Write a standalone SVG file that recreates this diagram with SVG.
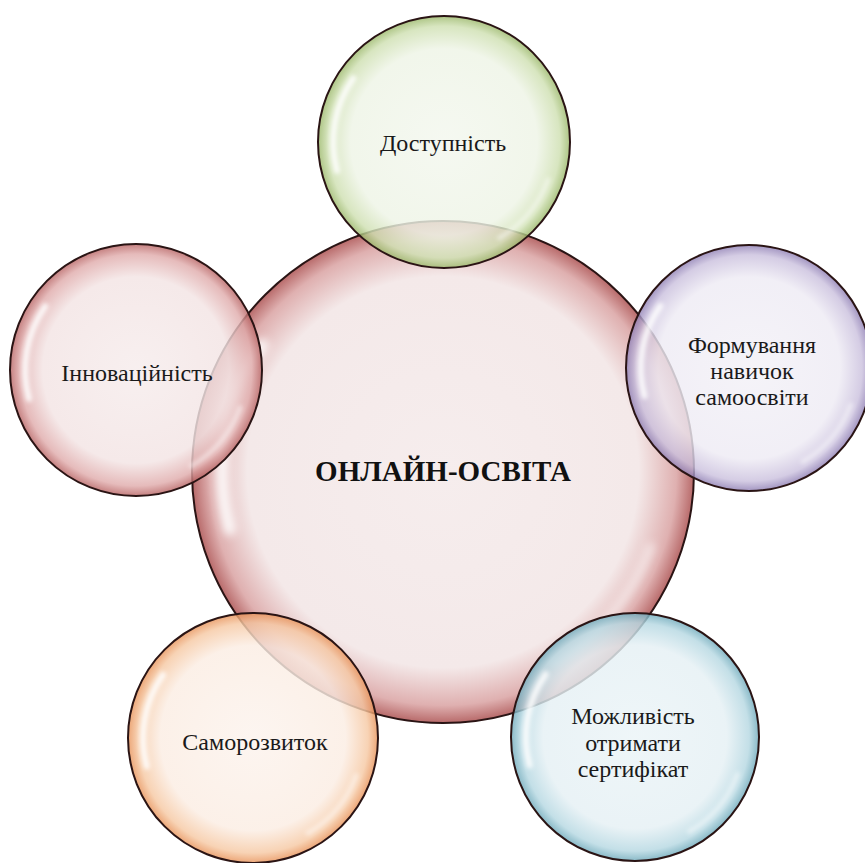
<svg xmlns="http://www.w3.org/2000/svg" xmlns:xlink="http://www.w3.org/1999/xlink" width="865" height="863" viewBox="0 0 865 863">
<style>
.ring{stroke:#2a1414;stroke-width:2}
.sat{fill-opacity:0.82}
.lbl{font-family:"Liberation Serif","Times New Roman",serif;font-size:24px;fill:#1a1a1a;text-anchor:middle}
.title{font-family:"Liberation Serif","Times New Roman",serif;font-size:29px;font-weight:bold;fill:#111;text-anchor:middle}
.hl{fill:none;stroke:#ffffff;stroke-linecap:round;filter:url(#blur)}
</style>
<defs>
<filter id="blur" x="-50%" y="-50%" width="200%" height="200%"><feGaussianBlur stdDeviation="1.6"/></filter>
<radialGradient id="gC"><stop offset="0" stop-color="#f6eded"/><stop offset="0.78" stop-color="#f4e9e9"/><stop offset="0.93" stop-color="#dfb0b0"/><stop offset="1" stop-color="#b86a6a"/></radialGradient>
<radialGradient id="gG"><stop offset="0" stop-color="#f3f7ee"/><stop offset="0.74" stop-color="#eef4e6"/><stop offset="0.92" stop-color="#cfe0b2"/><stop offset="1" stop-color="#9bb86a"/></radialGradient>
<radialGradient id="gR"><stop offset="0" stop-color="#f6ecec"/><stop offset="0.74" stop-color="#f3e4e4"/><stop offset="0.92" stop-color="#e0acac"/><stop offset="1" stop-color="#b86464"/></radialGradient>
<radialGradient id="gP"><stop offset="0" stop-color="#f3f1f7"/><stop offset="0.74" stop-color="#eeebf4"/><stop offset="0.92" stop-color="#cbc1de"/><stop offset="1" stop-color="#8f7fb4"/></radialGradient>
<radialGradient id="gO"><stop offset="0" stop-color="#fcf3ed"/><stop offset="0.74" stop-color="#fbede3"/><stop offset="0.92" stop-color="#f6c9a4"/><stop offset="1" stop-color="#e8935a"/></radialGradient>
<radialGradient id="gB"><stop offset="0" stop-color="#ebf4f7"/><stop offset="0.74" stop-color="#e5f0f4"/><stop offset="0.92" stop-color="#b6d8e2"/><stop offset="1" stop-color="#6faabb"/></radialGradient>
<g id="shine">
<path class="hl" d="M -85 22.8 A 88 88 0 0 1 -72.1 -50.5" stroke-width="5" stroke-opacity="0.85"/>
<path class="hl" d="M 82.7 30.1 A 88 88 0 0 1 44 76.2" stroke-width="4" stroke-opacity="0.5"/>
</g>
</defs>
<rect width="865" height="863" fill="#ffffff"/>

<g id="center">
<circle class="ring" cx="443" cy="472" r="251" fill="url(#gC)"/>
<use xlink:href="#shine" transform="translate(443 472) scale(2.51)"/>
<text class="title" x="443" y="481">ОНЛАЙН-ОСВІТА</text>
</g>

<g id="dostupnist">
<circle class="ring sat" cx="444" cy="142" r="126" fill="url(#gG)"/>
<use xlink:href="#shine" transform="translate(444 142) scale(1.26)"/>
<text class="lbl" x="443" y="151">Доступність</text>
</g>

<g id="formuvannia">
<circle class="ring sat" cx="749" cy="368" r="123" fill="url(#gP)"/>
<use xlink:href="#shine" transform="translate(749 368) scale(1.23)"/>
<text class="lbl" x="752" y="353">Формування</text>
<text class="lbl" x="752" y="379">навичок</text>
<text class="lbl" x="752" y="405">самоосвіти</text>
</g>

<g id="mozhlyvist">
<circle class="ring sat" cx="635" cy="737" r="124" fill="url(#gB)"/>
<use xlink:href="#shine" transform="translate(635 737) scale(1.24)"/>
<text class="lbl" x="633" y="724">Можливість</text>
<text class="lbl" x="633" y="751">отримати</text>
<text class="lbl" x="633" y="777">сертифікат</text>
</g>

<g id="samorozvytok">
<circle class="ring sat" cx="253" cy="738" r="125" fill="url(#gO)"/>
<use xlink:href="#shine" transform="translate(253 738) scale(1.25)"/>
<text class="lbl" x="255" y="750">Саморозвиток</text>
</g>

<g id="innovatsiinist">
<circle class="ring sat" cx="136" cy="370" r="126" fill="url(#gR)"/>
<use xlink:href="#shine" transform="translate(136 370) scale(1.26)"/>
<text class="lbl" x="137" y="381">Інноваційність</text>
</g>
</svg>
